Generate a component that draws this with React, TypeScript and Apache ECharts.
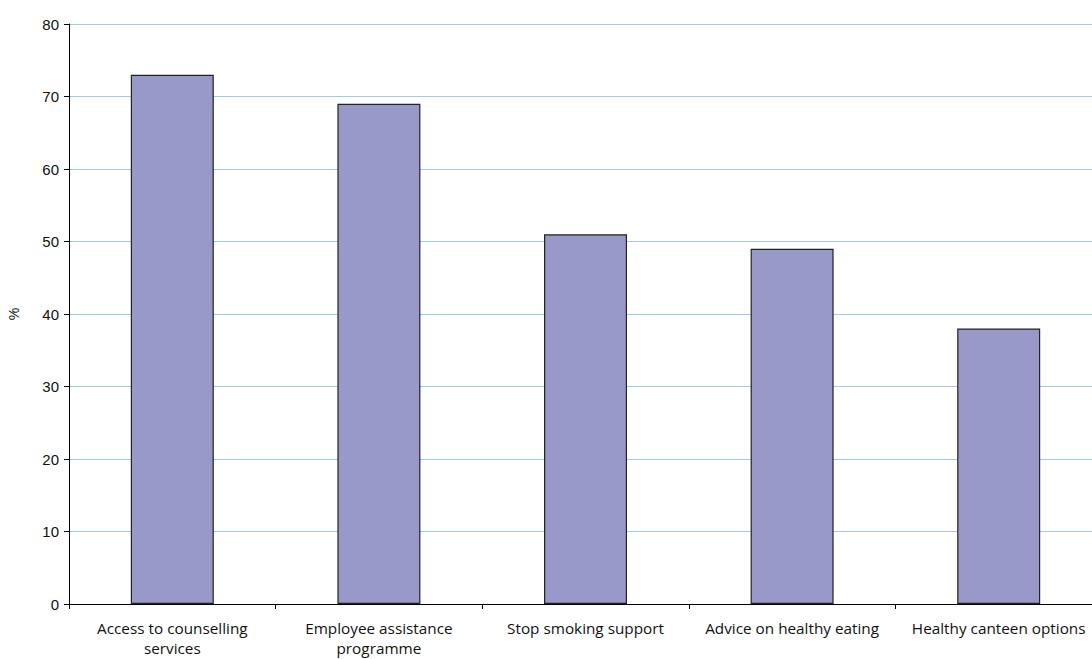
import React, { useEffect, useRef } from "react";
import * as echarts from "echarts";

const categories = [
  "Access to counselling\nservices",
  "Employee assistance\nprogramme",
  "Stop smoking support",
  "Advice on healthy eating",
  "Healthy canteen options",
];
const values = [73, 69, 51, 49, 38];
const yMin = 0;
const yMax = 80;
const yInterval = 10;

export default function App() {
  const ref = useRef<HTMLDivElement>(null);
  useEffect(() => {
    if (!ref.current) return;
    const chart = echarts.init(ref.current, undefined, { renderer: "svg" });
    chart.setOption({
      animation: false,
      backgroundColor: "#ffffff",
      grid: { left: 69, top: 24, bottom: 55, right: 0, containLabel: false, outerBoundsMode: "none" },
      xAxis: {
        type: "category",
        data: categories,
        axisLine: { lineStyle: { color: "#000", width: 1 } },
        axisTick: { show: true, alignWithLabel: false, length: 5, lineStyle: { color: "#000" } },
        axisLabel: {
          color: "#111",
          fontFamily: "Open Sans",
          fontSize: 15.3,
          lineHeight: 20,
          margin: 14,
          interval: 0,
        },
        splitLine: { show: false },
      },
      yAxis: {
        type: "value",
        min: yMin,
        max: yMax,
        interval: yInterval,
        name: "%",
        nameLocation: "middle",
        nameGap: 48,
        nameRotate: 90,
        nameTextStyle: { color: "#111", fontFamily: "Liberation Sans", fontSize: 14 },
        axisLine: { show: true, lineStyle: { color: "#000", width: 1 } },
        axisTick: { show: true, length: 5, lineStyle: { color: "#000" } },
        axisLabel: { color: "#111", fontFamily: "Liberation Sans", fontSize: 15, margin: 10 },
        splitLine: { show: true, lineStyle: { color: "#9fcbef", width: 1 } },
      },
      series: [
        {
          type: "bar",
          data: values,
          barWidth: 83,
          itemStyle: { color: "#9898c9", borderColor: "#222", borderWidth: 1.2 },
        },
      ],
    });
    return () => chart.dispose();
  }, []);
  return (
    <div style={{ position: "fixed", left: 0, top: 0, width: 1092, height: 659, overflow: "hidden", background: "#fff" }}>
      <div ref={ref} style={{ width: 1102, height: 659 }} />
    </div>
  );
}
